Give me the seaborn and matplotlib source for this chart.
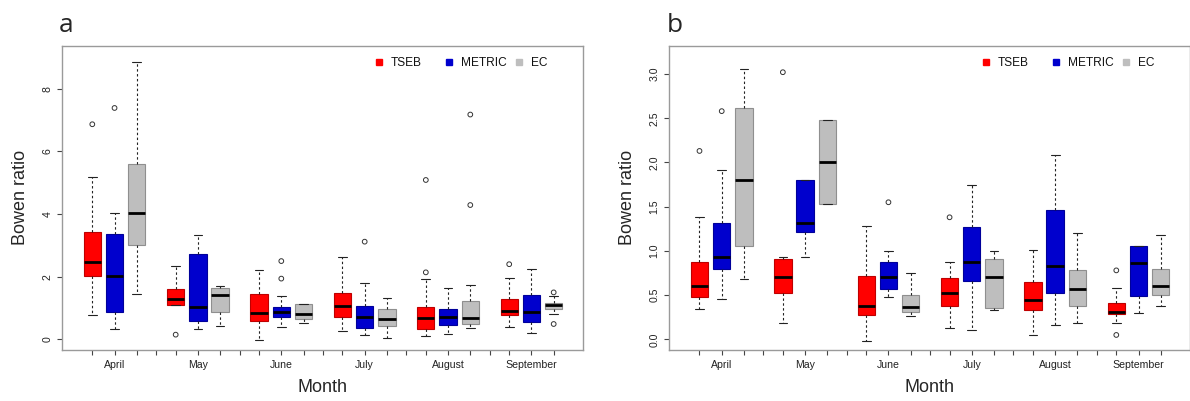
import numpy as np
import pandas as pd
import matplotlib
matplotlib.use("Agg")
import matplotlib.pyplot as plt
import seaborn as sns
from matplotlib.colors import to_rgb

months = ["April", "May", "June", "July", "August", "September"]
methods = ["TSEB", "METRIC", "EC"]
method_colors = ["#FF0000", "#0000CD", "#BEBEBE"]

# Box summaries per month: (lower whisker, Q1, median, Q3, upper whisker)
tseb_a = [(0.78, 2.02, 2.48, 3.42, 5.17), (1.09, 1.09, 1.29, 1.60, 2.33),
          (-0.02, 0.60, 0.83, 1.45, 2.21), (0.27, 0.70, 1.07, 1.49, 2.64),
          (0.11, 0.33, 0.69, 1.04, 1.94), (0.38, 0.79, 0.92, 1.28, 1.96)]
metric_a = [(0.33, 0.86, 2.03, 3.37, 4.02), (0.34, 0.60, 1.03, 2.74, 3.32),
            (0.38, 0.72, 0.87, 1.04, 1.37), (0.13, 0.36, 0.72, 1.08, 1.80),
            (0.18, 0.47, 0.70, 0.96, 1.63), (0.19, 0.55, 0.86, 1.41, 2.25)]
ec_a = [(1.44, 3.00, 4.02, 5.60, 8.85), (0.43, 0.88, 1.42, 1.63, 1.70),
        (0.51, 0.66, 0.80, 1.13, 1.13), (0.04, 0.42, 0.66, 0.96, 1.32),
        (0.35, 0.48, 0.67, 1.24, 1.74), (0.80, 0.96, 1.10, 1.15, 1.37)]

# Outlying points per month
tseb_a_out = [[6.87], [0.15], [], [], [2.14, 5.09], [2.40]]
metric_a_out = [[7.39], [], [1.94, 2.50], [3.12], [], []]
ec_a_out = [[], [], [], [], [4.29, 7.18], [0.49, 1.50]]

tseb_b = [(0.34, 0.48, 0.60, 0.87, 1.38), (0.18, 0.52, 0.70, 0.91, 0.93),
          (-0.02, 0.28, 0.38, 0.72, 1.28), (0.13, 0.38, 0.52, 0.69, 0.88),
          (0.05, 0.33, 0.45, 0.65, 1.01), (0.18, 0.29, 0.31, 0.41, 0.58)]
metric_b = [(0.46, 0.80, 0.93, 1.31, 1.91), (0.93, 1.21, 1.32, 1.80, 1.80),
            (0.48, 0.57, 0.70, 0.87, 1.00), (0.11, 0.66, 0.88, 1.27, 1.74),
            (0.16, 0.52, 0.83, 1.46, 2.08), (0.30, 0.49, 0.86, 1.05, 1.05)]
ec_b = [(0.68, 1.05, 1.80, 2.62, 3.06), (1.53, 1.53, 2.00, 2.48, 2.48),
        (0.26, 0.31, 0.37, 0.50, 0.75), (0.33, 0.36, 0.71, 0.91, 1.00),
        (0.18, 0.38, 0.57, 0.78, 1.20), (0.38, 0.50, 0.60, 0.80, 1.18)]

tseb_b_out = [[2.13], [3.02], [], [1.38], [], [0.05, 0.78]]
metric_b_out = [[2.58], [], [1.55], [], [], []]
ec_b_out = [[], [], [], [], [], []]

yticks_a = [0, 2, 4, 6, 8]
yticks_b = [0.0, 0.5, 1.0, 1.5, 2.0, 2.5, 3.0]


def to_frames(boxes, outliers):
    """Five-number summaries -> long table; outliers -> separate table."""
    box_rows, out_rows = [], []
    for method, summ, outs in zip(methods, boxes, outliers):
        for month, stats, pts in zip(months, summ, outs):
            for v in stats:
                box_rows.append((month, method, v))
            for v in pts:
                out_rows.append((month, method, v))
    cols = ["Month", "Method", "Bowen ratio"]
    return pd.DataFrame(box_rows, columns=cols), pd.DataFrame(out_rows, columns=cols)


sns.set_style("white")
plt.rcParams["font.family"] = ["Liberation Sans", "DejaVu Sans"]

fig = plt.figure(figsize=(11.90, 4.01), dpi=100)
ax_a = fig.add_axes([0.05235, 0.1272, 0.4378, 0.7589])
ax_b = fig.add_axes([0.5626, 0.1272, 0.4377, 0.7589])

palette = dict(zip(methods, method_colors))
frame_grey = "#9a9a9a"
dodge_step = 0.8 / len(methods)


def draw_panel(ax, boxes, outliers, ylim, yticks, yfmt, letter, letter_x):
    box_df, out_df = to_frames(boxes, outliers)
    sns.boxplot(data=box_df, x="Month", y="Bowen ratio", hue="Method",
                order=months, hue_order=methods, palette=palette,
                saturation=1, width=0.8, gap=0.22, whis=(0, 100),
                fliersize=0, linecolor="black", linewidth=0.8,
                medianprops=dict(linewidth=2.0, color="black"),
                whiskerprops=dict(linestyle=(0, (2.2, 2.2)), linewidth=0.8,
                                  color="#222222"),
                capprops=dict(linewidth=0.8, color="#222222"),
                legend=False, ax=ax)
    # box outlines in a darker shade of each fill
    for patch in ax.patches:
        r, g, b = to_rgb(patch.get_facecolor())
        patch.set_edgecolor((r * 0.75, g * 0.75, b * 0.75))
        patch.set_linewidth(0.8)

    sns.stripplot(data=out_df, x="Month", y="Bowen ratio", hue="Method",
                  order=months, hue_order=methods, palette=palette,
                  dodge=True, jitter=False, size=3.4, marker="o",
                  linewidth=0.7, edgecolor="#333333", legend=False, ax=ax)
    for coll in ax.collections:
        coll.set_facecolor("none")

    ax.set_xlim(-0.6265, 5.6217)
    ax.set_ylim(*ylim)

    ax.set_xticks(range(len(months)))
    ax.set_xticklabels(months)
    minor = []
    for c in range(len(months)):
        minor += [c - dodge_step, c + dodge_step]
        if c < len(months) - 1:
            minor.append(c + 0.5)
    ax.set_xticks(minor, minor=True)
    ax.set_yticks(yticks)
    ax.set_yticklabels([yfmt.format(v) for v in yticks])

    ax.tick_params(axis="both", which="both", direction="out", length=3.6,
                   width=0.8, color="#444444", labelsize=7.6,
                   labelcolor="#222222", pad=3.5)
    ax.tick_params(axis="x", which="both", bottom=True)
    ax.tick_params(axis="y", left=True, labelrotation=90)
    for lbl in ax.get_yticklabels():
        lbl.set_verticalalignment("center")

    for side in ["left", "right", "top", "bottom"]:
        ax.spines[side].set_visible(True)
        ax.spines[side].set_color(frame_grey)
        ax.spines[side].set_linewidth(1.0)

    ax.set_xlabel("Month", fontsize=13)
    ax.set_ylabel("Bowen ratio", fontsize=13)
    ax.xaxis.set_label_coords(0.5, -0.095)
    ax.yaxis.set_label_coords(-0.064, 0.5)

    # key placed inside the upper right of the frame
    for i, (name, col) in enumerate(zip(methods, method_colors)):
        x0 = 0.607 + i * 0.1344
        ax.plot([x0], [0.9464], marker="s", ms=4.0, color=col, lw=0,
                transform=ax.transAxes, clip_on=False)
        ax.text(x0 + 0.024, 0.9323, name, transform=ax.transAxes,
                fontsize=8.6, va="baseline", ha="left", color="#111111")

    fig.text(letter_x, 0.920, letter, fontsize=19, va="baseline", ha="left",
             family=["Open Sans", "DejaVu Sans"])


draw_panel(ax_a, [tseb_a, metric_a, ec_a], [tseb_a_out, metric_a_out, ec_a_out],
           (-0.34, 9.38), yticks_a, "{:.0f}", "a", 0.0495)
draw_panel(ax_b, [tseb_b, metric_b, ec_b], [tseb_b_out, metric_b_out, ec_b_out],
           (-0.12, 3.32), yticks_b, "{:.1f}", "b", 0.5600)

fig.savefig("out.png", dpi=100)
